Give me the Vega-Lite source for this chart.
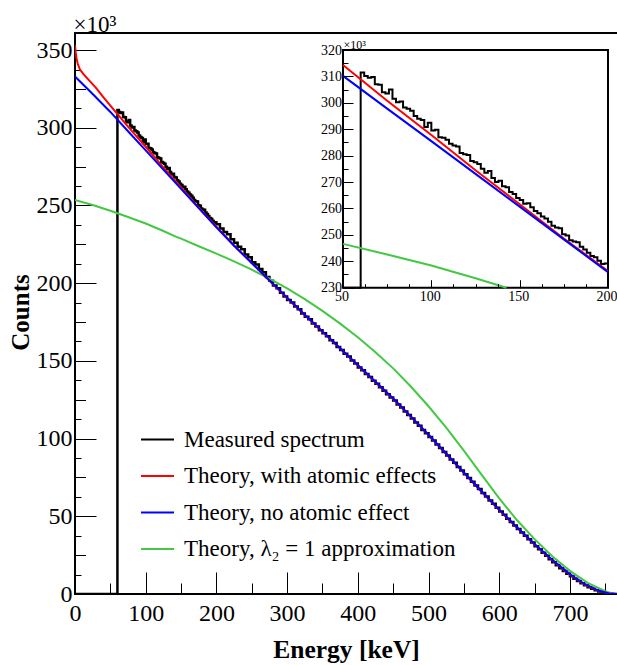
{
"$schema": "https://vega.github.io/schema/vega-lite/v6.json",
"width": 543, "height": 561,
"autosize": {"type": "none"},
"padding": {"left": 75, "top": 33, "right": 0, "bottom": 71},
"background": "white",
"config": {
  "view": {"stroke": "black", "strokeWidth": 2},
  "font": "Liberation Serif",
  "axis": {"grid": false, "domain": false, "labelFont": "Liberation Serif", "titleFont": "Liberation Serif", "labelColor": "black", "titleColor": "black", "tickColor": "black", "tickWidth": 1, "labelFlush": false, "labelOverlap": false, "labelBound": false},
  "legend": {"labelFont": "Liberation Serif", "labelColor": "black"}
},
"datasets": {
  "measured": [
    {"E":0,"v":0},{"E":60,"v":311.5},{"E":62,"v":310.2},{"E":64,"v":309.5},{"E":66,"v":309.8},{"E":68,"v":307.0},{"E":70,"v":306.8},{"E":72,"v":304.0},{"E":74,"v":303.5},{"E":76,"v":305.0},{"E":78,"v":301.5},{"E":80,"v":300.2},{"E":82,"v":300.5},{"E":84,"v":298.2},{"E":86,"v":297.8},{"E":88,"v":297.0},{"E":90,"v":295.0},{"E":92,"v":294.0},{"E":94,"v":293.5},{"E":96,"v":290.8},{"E":98,"v":292.5},{"E":100,"v":289.5},{"E":102,"v":289.8},{"E":104,"v":287.0},{"E":106,"v":286.8},{"E":108,"v":286.0},{"E":110,"v":284.5},{"E":112,"v":283.8},{"E":114,"v":283.5},{"E":116,"v":281.0},{"E":118,"v":280.5},{"E":120,"v":280.2},{"E":122,"v":278.0},{"E":124,"v":277.5},{"E":126,"v":276.8},{"E":128,"v":275.0},{"E":130,"v":273.5},{"E":132,"v":274.2},{"E":134,"v":271.5},{"E":136,"v":270.0},{"E":138,"v":270.5},{"E":140,"v":268.4},{"E":142,"v":268.0},{"E":144,"v":266.2},{"E":146,"v":265.5},{"E":148,"v":264.0},{"E":150,"v":263.2},{"E":152,"v":261.8},{"E":154,"v":262.0},{"E":156,"v":260.5},{"E":158,"v":259.0},{"E":160,"v":258.2},{"E":162,"v":257.0},{"E":164,"v":256.2},{"E":166,"v":255.0},{"E":168,"v":253.5},{"E":170,"v":252.8},{"E":172,"v":252.5},{"E":174,"v":250.2},{"E":176,"v":249.8},{"E":178,"v":248.0},{"E":180,"v":247.5},{"E":182,"v":247.2},{"E":184,"v":245.5},{"E":186,"v":244.5},{"E":188,"v":243.2},{"E":190,"v":242.0},{"E":192,"v":241.5},{"E":194,"v":240.2},{"E":196,"v":239.0},{"E":198,"v":239.2},{"E":200,"v":238.0},
    {"E":205,"v":235.2},{"E":210,"v":233.0},{"E":215,"v":231.5},{"E":220,"v":228.2},{"E":225,"v":226.0},{"E":230,"v":223.5},{"E":235,"v":221.8},{"E":240,"v":218.5},{"E":245,"v":216.7},{"E":250,"v":213.5},{"E":255,"v":212.0},{"E":260,"v":209.2},{"E":265,"v":207.0},{"E":270,"v":204.0},{"E":275,"v":201.5},{"E":280,"v":198.5},{"E":285,"v":196.8},{"E":290,"v":193.8},{"E":295,"v":191.5},{"E":300,"v":189.2},{"E":305,"v":187.5},{"E":310,"v":185.0},{"E":315,"v":183.2},{"E":320,"v":180.5},{"E":325,"v":178.4},{"E":330,"v":176.8},{"E":335,"v":174.0},{"E":340,"v":172.2},{"E":345,"v":169.8},{"E":350,"v":167.8},{"E":355,"v":165.9},{"E":360,"v":163.3},{"E":365,"v":161.5},{"E":370,"v":159.0},{"E":375,"v":157.0},{"E":380,"v":154.6},{"E":385,"v":152.8},{"E":390,"v":150.2},{"E":395,"v":148.4},{"E":400,"v":145.8},{"E":405,"v":144.0},{"E":410,"v":141.5},{"E":415,"v":139.6},{"E":420,"v":137.2},{"E":425,"v":135.3},{"E":430,"v":133.0},{"E":435,"v":130.8},{"E":440,"v":128.6},{"E":445,"v":126.5},{"E":450,"v":124.5},{"E":455,"v":122.0},{"E":460,"v":120.0},{"E":465,"v":117.4},{"E":470,"v":115.2},{"E":475,"v":113.0},{"E":480,"v":110.4},{"E":485,"v":108.3},{"E":490,"v":105.6},{"E":495,"v":103.4},{"E":500,"v":101.0},{"E":505,"v":98.8},{"E":510,"v":96.2},{"E":515,"v":94.0},{"E":520,"v":91.3},{"E":525,"v":89.2},{"E":530,"v":86.5},{"E":535,"v":84.4},{"E":540,"v":81.8},{"E":545,"v":79.5},{"E":550,"v":77.0},{"E":555,"v":74.6},{"E":560,"v":72.3},{"E":565,"v":69.8},{"E":570,"v":67.5},{"E":575,"v":65.0},{"E":580,"v":62.8},{"E":585,"v":60.2},{"E":590,"v":58.0},{"E":595,"v":55.5},{"E":600,"v":53.1},{"E":605,"v":51.0},{"E":610,"v":48.5},{"E":615,"v":46.4},{"E":620,"v":44.0},{"E":625,"v":41.9},{"E":630,"v":39.6},{"E":635,"v":37.5},{"E":640,"v":35.2},{"E":645,"v":33.1},{"E":650,"v":30.8},{"E":655,"v":28.8},{"E":660,"v":26.6},{"E":665,"v":24.6},{"E":670,"v":22.4},{"E":675,"v":20.5},{"E":680,"v":18.5},{"E":685,"v":16.6},{"E":690,"v":14.8},{"E":695,"v":13.0},{"E":700,"v":11.4},{"E":705,"v":9.8},{"E":710,"v":8.3},{"E":715,"v":6.9},{"E":720,"v":5.6},{"E":725,"v":4.4},{"E":730,"v":3.3},{"E":735,"v":2.4},{"E":740,"v":1.6},{"E":745,"v":0.9},{"E":750,"v":0.4},{"E":755,"v":0.1},{"E":760,"v":0},{"E":768,"v":0}
  ],
  "atomic": [
    {"E":0,"v":353},{"E":1,"v":348.5},{"E":2,"v":345},{"E":4,"v":341},{"E":7,"v":337.5},{"E":12,"v":334.5},{"E":20,"v":330.5},{"E":30,"v":325.5},{"E":40,"v":319.8},{"E":50,"v":314.3},{"E":75,"v":300.8},{"E":100,"v":287.8},{"E":125,"v":274.5},{"E":150,"v":261.6},{"E":175,"v":248.6},{"E":200,"v":236.3},{"E":225,"v":224.3},{"E":250,"v":212.9},{"E":275,"v":201.5},{"E":300,"v":190.4},{"E":325,"v":179.4},{"E":350,"v":168.7},{"E":375,"v":157.9},{"E":400,"v":147.0},{"E":425,"v":136.3},{"E":450,"v":125.5},{"E":475,"v":114.0},{"E":500,"v":102.2},{"E":525,"v":90.1},{"E":550,"v":77.9},{"E":575,"v":65.8},{"E":600,"v":54.0},{"E":625,"v":42.7},{"E":650,"v":31.9},{"E":675,"v":21.7},{"E":700,"v":12.5},{"E":720,"v":6.4},{"E":740,"v":2.1},{"E":755,"v":0.4},{"E":768,"v":0}
  ],
  "noatomic": [
    {"E":0,"v":333},{"E":25,"v":321.7},{"E":50,"v":310.2},{"E":75,"v":297.8},{"E":100,"v":285.5},{"E":125,"v":273.1},{"E":150,"v":260.7},{"E":175,"v":248.3},{"E":200,"v":235.9},{"E":225,"v":224.1},{"E":250,"v":213.0},{"E":275,"v":201.8},{"E":300,"v":190.7},{"E":325,"v":179.7},{"E":350,"v":169.0},{"E":375,"v":158.2},{"E":400,"v":147.3},{"E":425,"v":136.6},{"E":450,"v":125.8},{"E":475,"v":114.3},{"E":500,"v":102.5},{"E":525,"v":90.4},{"E":550,"v":78.2},{"E":575,"v":66.1},{"E":600,"v":54.3},{"E":625,"v":43.0},{"E":650,"v":32.2},{"E":675,"v":22.0},{"E":700,"v":12.8},{"E":720,"v":6.6},{"E":740,"v":2.2},{"E":755,"v":0.4},{"E":768,"v":0}
  ],
  "lambda": [
    {"E":0,"v":253.5},{"E":25,"v":250.3},{"E":50,"v":246.6},{"E":75,"v":242.6},{"E":100,"v":238.4},{"E":125,"v":233.6},{"E":142.5,"v":230.0},{"E":150,"v":228.7},{"E":175,"v":223.8},{"E":200,"v":219.0},{"E":225,"v":214.0},{"E":250,"v":208.7},{"E":275,"v":202.9},{"E":300,"v":196.6},{"E":325,"v":189.7},{"E":350,"v":182.2},{"E":375,"v":174.0},{"E":400,"v":165.2},{"E":425,"v":155.6},{"E":450,"v":145.2},{"E":475,"v":133.5},{"E":500,"v":120.8},{"E":525,"v":107.0},{"E":550,"v":92.2},{"E":575,"v":76.8},{"E":600,"v":61.5},{"E":625,"v":47.6},{"E":650,"v":35.3},{"E":675,"v":24.3},{"E":700,"v":14.9},{"E":725,"v":7.2},{"E":750,"v":1.8},{"E":762,"v":0},{"E":768,"v":0}
  ]
},
"layer": [
  {
    "layer": [
      {
        "data": {"name": "measured"},
        "mark": {"type": "line", "interpolate": "step-after", "strokeWidth": 2.5, "clip": true},
        "encoding": {
          "x": {"field": "E", "type": "quantitative", "scale": {"domain": [0, 768], "nice": false, "zero": false},
                "axis": {"orient": "bottom", "values": [0,100,200,300,400,500,600,700], "format": "d", "tickSize": -22, "labelPadding": 29, "labelFont": "Liberation Serif", "labelFontSize": 24, "title": "Energy [keV]", "titleFont": "Liberation Serif", "titleFontSize": 25.5, "titleFontWeight": "bold", "titleX": 271, "titleY": 63, "titleAlign": "center", "titleBaseline": "alphabetic"}},
          "y": {"field": "v", "type": "quantitative", "scale": {"domain": [0, 361], "nice": false},
                "axis": {"orient": "left", "values": [0,50,100,150,200,250,300,350], "format": "d", "tickSize": -21, "labelPadding": 24, "labelFont": "Liberation Serif", "labelFontSize": 24, "title": "Counts", "titleFont": "Liberation Serif", "titleFontSize": 25, "titleFontWeight": "bold", "titleAngle": -90, "titleX": -47, "titleY": 279, "titleAlign": "center", "titleBaseline": "alphabetic"}},
          "color": {"datum": "Measured spectrum", "type": "nominal",
                    "scale": {"domain": ["Measured spectrum", "Theory, with atomic effects", "Theory, no atomic effect", "Theory, λ₂ = 1 approximation"], "range": ["#000000", "#ff0000", "#0000ff", "#44c844"]},
                    "legend": {"orient": "none", "legendX": 65, "legendY": 389, "title": null, "symbolType": "stroke", "symbolSize": 1089, "symbolStrokeWidth": 2, "labelFont": "Liberation Serif", "labelFontSize": 23, "labelOffset": 9, "rowPadding": 6.5, "padding": 0, "labelLimit": 400}}
        }
      },
      {
        "data": {"name": "lambda"},
        "mark": {"type": "line", "strokeWidth": 2, "clip": true},
        "encoding": {
          "x": {"field": "E", "type": "quantitative", "scale": {"domain": [0, 768], "nice": false, "zero": false}, "axis": null},
          "y": {"field": "v", "type": "quantitative", "scale": {"domain": [0, 361], "nice": false}, "axis": null},
          "color": {"datum": "Theory, λ₂ = 1 approximation", "type": "nominal"}
        }
      },
      {
        "data": {"name": "atomic"},
        "mark": {"type": "line", "strokeWidth": 2, "clip": true},
        "encoding": {
          "x": {"field": "E", "type": "quantitative", "scale": {"domain": [0, 768], "nice": false, "zero": false},
                "axis": {"orient": "bottom", "values": [50,150,250,350,450,550,650,750], "tickSize": -11, "labels": false, "title": null}},
          "y": {"field": "v", "type": "quantitative", "scale": {"domain": [0, 361], "nice": false},
                "axis": {"orient": "left", "values": [25,75,125,175,225,275,325], "tickSize": -10.5, "labels": false, "title": "×10³", "titleFont": "Liberation Serif", "titleFontSize": 23, "titleFontWeight": "normal", "titleAngle": 0, "titleX": -2, "titleY": -2, "titleAlign": "left", "titleBaseline": "alphabetic"}},
          "color": {"datum": "Theory, with atomic effects", "type": "nominal"}
        }
      },
      {
        "data": {"name": "noatomic"},
        "mark": {"type": "line", "strokeWidth": 2, "clip": true},
        "encoding": {
          "x": {"field": "E", "type": "quantitative", "scale": {"domain": [0, 768], "nice": false, "zero": false}, "axis": null},
          "y": {"field": "v", "type": "quantitative", "scale": {"domain": [0, 361], "nice": false},
                "axis": {"orient": "left", "values": [12.5,37.5,62.5,87.5,112.5,137.5,162.5,187.5,212.5,237.5,262.5,287.5,312.5,337.5], "tickSize": -6, "labels": false, "title": null}},
          "color": {"datum": "Theory, no atomic effect", "type": "nominal"}
        }
      }
    ],
    "resolve": {"axis": {"x": "independent", "y": "independent"}}
  },
  {
    "layer": [
      {
        "data": {"values": [{}]},
        "mark": {"type": "rect", "fill": "white", "stroke": "black", "strokeWidth": 2},
        "encoding": {
          "x": {"datum": 50, "type": "quantitative", "scale": {"domain": [50, 200], "range": [268, 533], "nice": false, "zero": false, "clamp": true},
                "axis": {"orient": "bottom", "offset": -306.3, "values": [50,100,150,200], "format": "d", "tickSize": -8, "labelPadding": 10, "labelOffset": -1.5, "labelFont": "Liberation Serif", "labelFontSize": 14, "title": null, "zindex": 1}},
          "x2": {"datum": 200},
          "y": {"datum": 230, "type": "quantitative", "scale": {"domain": [230, 320], "range": [254.7, 17], "nice": false, "zero": false, "clamp": true},
                "axis": {"orient": "left", "offset": -268, "values": [230,240,250,260,270,280,290,300,310,320], "format": "d", "tickSize": -10, "labelPadding": 11.5, "labelFont": "Liberation Serif", "labelFontSize": 14, "title": "×10³", "titleFont": "Liberation Serif", "titleFontSize": 12, "titleFontWeight": "normal", "titleAngle": 0, "titleX": 0, "titleY": 15, "titleAlign": "left", "titleBaseline": "alphabetic", "zindex": 1}},
          "y2": {"datum": 320}
        }
      },
      {
        "data": {"name": "measured"},
        "transform": [{"filter": "datum.E <= 200"}],
        "mark": {"type": "line", "interpolate": "step-after", "strokeWidth": 2},
        "encoding": {
          "x": {"field": "E", "type": "quantitative", "scale": {"domain": [50, 200], "range": [268, 533], "nice": false, "zero": false, "clamp": true},
                "axis": {"orient": "bottom", "offset": -306.3, "values": [62.5,75,87.5,112.5,125,137.5,162.5,175,187.5], "tickSize": -4, "labels": false, "title": null, "zindex": 1}},
          "y": {"field": "v", "type": "quantitative", "scale": {"domain": [230, 320], "range": [254.7, 17], "nice": false, "zero": false, "clamp": true},
                "axis": {"orient": "left", "offset": -268, "values": [235,245,255,265,275,285,295,305,315], "tickSize": -5, "labels": false, "title": null, "zindex": 1}},
          "color": {"datum": "Measured spectrum", "type": "nominal", "legend": null}
        }
      },
      {
        "data": {"name": "lambda"},
        "transform": [{"filter": "datum.E >= 50 && datum.v >= 230"}],
        "mark": {"type": "line", "strokeWidth": 2},
        "encoding": {
          "x": {"field": "E", "type": "quantitative", "scale": {"domain": [50, 200], "range": [268, 533], "nice": false, "zero": false, "clamp": true}, "axis": null},
          "y": {"field": "v", "type": "quantitative", "scale": {"domain": [230, 320], "range": [254.7, 17], "nice": false, "zero": false, "clamp": true}, "axis": null},
          "color": {"datum": "Theory, λ₂ = 1 approximation", "type": "nominal", "legend": null}
        }
      },
      {
        "data": {"name": "atomic"},
        "transform": [{"filter": "datum.E >= 50 && datum.E <= 200"}],
        "mark": {"type": "line", "strokeWidth": 2},
        "encoding": {
          "x": {"field": "E", "type": "quantitative", "scale": {"domain": [50, 200], "range": [268, 533], "nice": false, "zero": false, "clamp": true}, "axis": null},
          "y": {"field": "v", "type": "quantitative", "scale": {"domain": [230, 320], "range": [254.7, 17], "nice": false, "zero": false, "clamp": true}, "axis": null},
          "color": {"datum": "Theory, with atomic effects", "type": "nominal", "legend": null}
        }
      },
      {
        "data": {"name": "noatomic"},
        "transform": [{"filter": "datum.E >= 50 && datum.E <= 200"}],
        "mark": {"type": "line", "strokeWidth": 2},
        "encoding": {
          "x": {"field": "E", "type": "quantitative", "scale": {"domain": [50, 200], "range": [268, 533], "nice": false, "zero": false, "clamp": true}, "axis": null},
          "y": {"field": "v", "type": "quantitative", "scale": {"domain": [230, 320], "range": [254.7, 17], "nice": false, "zero": false, "clamp": true}, "axis": null},
          "color": {"datum": "Theory, no atomic effect", "type": "nominal", "legend": null}
        }
      }
    ],
    "resolve": {"axis": {"x": "independent", "y": "independent"}}
  }
],
"resolve": {"scale": {"x": "independent", "y": "independent"}, "axis": {"x": "independent", "y": "independent"}}
}
